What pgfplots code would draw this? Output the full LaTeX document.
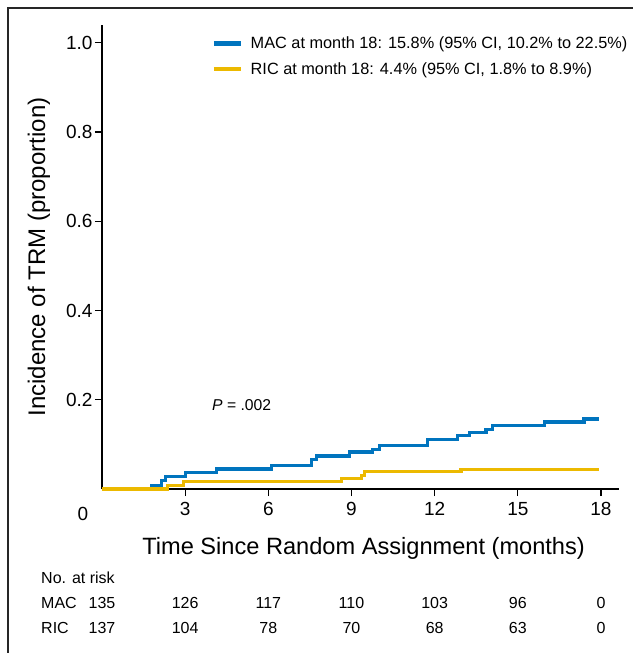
\documentclass[border=0pt]{standalone}
\usepackage{fontspec}
\setmainfont{Liberation Sans}
\usepackage{pgfplots}
\pgfplotsset{compat=1.18}
\definecolor{macblue}{RGB}{0,116,190}
\definecolor{ricyellow}{RGB}{236,185,0}
\tikzset{risk/.style={font=\fontsize{16bp}{18bp}\selectfont}}
\begin{document}
\begin{tikzpicture}[x=1bp,y=1bp]
\useasboundingbox (-102,-164) rectangle (531,489);
\draw[line width=1.3bp, black!85] (-94,-175) -- (-94,481) -- (540,481);
\begin{axis}[
  at={(0,0)}, anchor=south west,
  scale only axis, width=517bp, height=464bp,
  xmin=0, xmax=18.65, ymin=0, ymax=1.04,
  axis x line=bottom, axis y line=left,
  axis line style={line width=1.8bp, -},
  xtick={3,6,9,12,15,18}, ytick={0.2,0.4,0.6,0.8,1.0},
  tick align=outside, major tick length=7bp,
  tick style={line width=1.3bp, black},
  /pgf/number format/assume math mode=true,
  ticklabel style={font=\fontsize{19bp}{21bp}\selectfont},
  yticklabel style={xshift=1bp, /pgf/number format/.cd, fixed, fixed zerofill, precision=1},
  xticklabel style={yshift=-3bp},
  xlabel={Time Since Random Assignment (months)},
  ylabel={Incidence of TRM (proportion)},
  xlabel style={font=\fontsize{23.6bp}{28bp}\selectfont, at={(axis description cs:0.506,-0.1272)}, anchor=center},
  ylabel style={font=\fontsize{24bp}{28bp}\selectfont, at={(axis description cs:-0.1219,0.5)}, anchor=center},
  clip=false,
  legend style={at={(axis description cs:0.2118,0.978)}, anchor=north west, draw=none, fill=none,
    font=\fontsize{16.3bp}{19bp}\selectfont, row sep=9bp, inner sep=0pt,
    nodes={inner sep=1.5bp},
    /tikz/every odd column/.append style={column sep=6bp}},
  legend cell align=left,
  legend image code/.code={\draw[#1, line width=4.5bp] (0bp,0bp) -- (27bp,0bp);},
]
\addlegendimage{macblue}
\addlegendentry{MAC at month 18: 15.8\% (95\% CI, 10.2\% to 22.5\%)}
\addlegendimage{ricyellow}
\addlegendentry{RIC at month 18: 4.4\% (95\% CI, 1.8\% to 8.9\%)}

\addplot[const plot, macblue, line width=3.2bp, forget plot] coordinates {
(1.74,0.0074) (2.16,0.019) (2.28,0.028) (3.0,0.037) (4.14,0.045) (6.12,0.052)
(7.56,0.066) (7.74,0.074) (8.94,0.083) (9.77,0.089) (10.0,0.097) (11.75,0.111)
(12.83,0.120) (13.25,0.126) (13.85,0.134) (14.09,0.142) (15.95,0.150) (17.39,0.157) (17.93,0.157)
};
\addplot[const plot, ricyellow, line width=3.2bp, forget plot] coordinates {
(0,0) (2.35,0.0074) (2.93,0.016) (8.64,0.023) (9.36,0.031) (9.47,0.039) (12.95,0.044) (17.93,0.044)
};

\node[anchor=west, font=\fontsize{15.7bp}{18bp}\selectfont] at (axis cs:3.85,0.188) {\textit{P} = .002};
\node[font=\fontsize{19bp}{21bp}\selectfont] at (axis cs:-0.69,-0.056) {0};

\node[anchor=west, risk] at (axis cs:-2.32,-0.1996) {No. at risk};
\node[anchor=west, risk] at (axis cs:-2.32,-0.2556) {MAC};
\node[anchor=west, risk] at (axis cs:-2.32,-0.3117) {RIC};
\node[risk] at (axis cs:0,-0.2556) {135};
\node[risk] at (axis cs:3,-0.2556) {126};
\node[risk] at (axis cs:6,-0.2556) {117};
\node[risk] at (axis cs:9,-0.2556) {110};
\node[risk] at (axis cs:12,-0.2556) {103};
\node[risk] at (axis cs:15,-0.2556) {96};
\node[risk] at (axis cs:18,-0.2556) {0};
\node[risk] at (axis cs:0,-0.3117) {137};
\node[risk] at (axis cs:3,-0.3117) {104};
\node[risk] at (axis cs:6,-0.3117) {78};
\node[risk] at (axis cs:9,-0.3117) {70};
\node[risk] at (axis cs:12,-0.3117) {68};
\node[risk] at (axis cs:15,-0.3117) {63};
\node[risk] at (axis cs:18,-0.3117) {0};
\end{axis}
\end{tikzpicture}
\end{document}
